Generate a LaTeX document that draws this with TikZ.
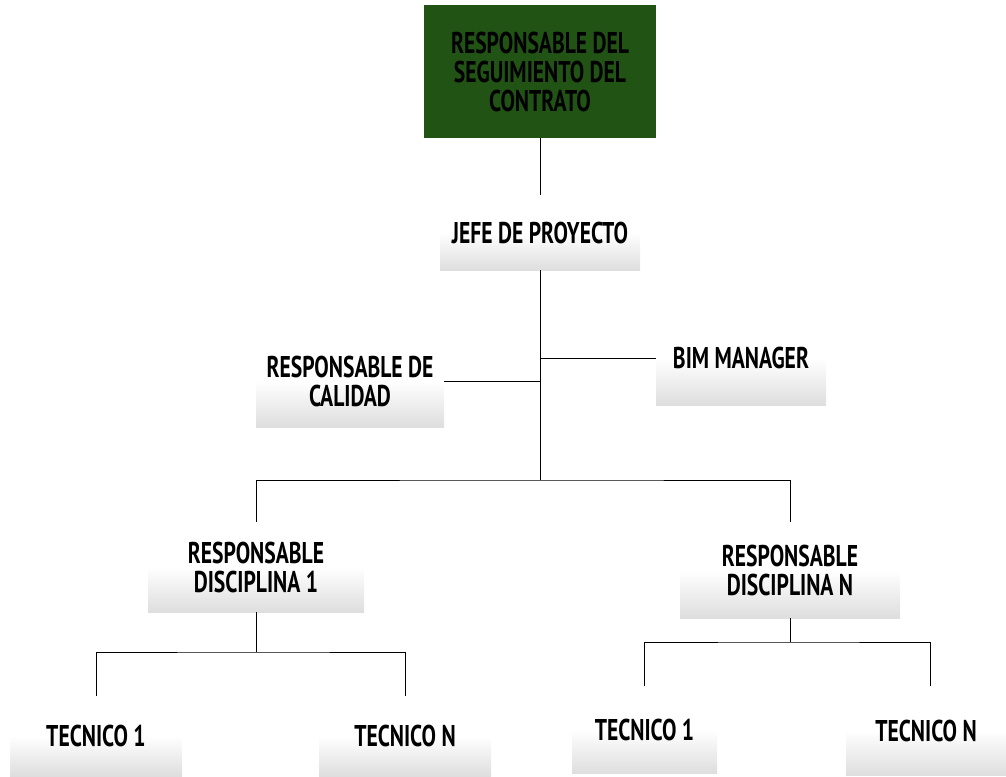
\documentclass[tikz,border=0pt]{standalone}
\usepackage{fontspec}
\newfontfamily\orgfont{PT Sans}[FakeStretch=0.72]
\pgfdeclareverticalshading{boxfade}{100bp}{color(0bp)=(black!13); color(25bp)=(black!13); color(50bp)=(white); color(75bp)=(white); color(100bp)=(white)}
\begin{document}
\begin{tikzpicture}[x=1pt,y=-1pt,
    label text/.style={inner sep=0pt, align=center, font=\orgfont\bfseries\fontsize{30}{29}\selectfont},
    box/.style={label text, shading=boxfade},
    head box/.style={label text, fill=headgreen},
    link/.style={line width=0.8pt}]
    % Define colors
    \definecolor{headgreen}{RGB}{33,83,21}

    \useasboundingbox (0,0) rectangle (1006,776);

    % Draw boxes
    \node[head box, minimum width=232, minimum height=133] (head) at (540,71.5) {RESPONSABLE DEL\\SEGUIMIENTO DEL\\CONTRATO};
    \node[box, minimum width=200, minimum height=75] (jefe) at (540,232.5) {JEFE DE PROYECTO};
    \node[box, minimum width=170, minimum height=94] (bim) at (741,358) {BIM MANAGER};
    \node[box, minimum width=188, minimum height=92] (calidad) at (350,381) {RESPONSABLE DE\\CALIDAD};
    \node[box, minimum width=216, minimum height=90] (disc1) at (256,567) {RESPONSABLE\\DISCIPLINA 1};
    \node[box, minimum width=220, minimum height=96] (discN) at (790,570) {RESPONSABLE\\DISCIPLINA N};
    \node[box, minimum width=172, minimum height=80] (tecA) at (96,736) {TECNICO 1};
    \node[box, minimum width=172, minimum height=80] (tecB) at (405,736) {TECNICO N};
    \node[box, minimum width=145, minimum height=87] (tecC) at (644.5,729.5) {TECNICO 1};
    \node[box, minimum width=160, minimum height=89] (tecD) at (926,730.5) {TECNICO N};

    % Bar points
    \coordinate (hub) at (540,480);
    \coordinate (barA) at (256,652);
    \coordinate (barB) at (790,642);

    % Draw connectors
    \draw[link] (head.south) -- (jefe.north);
    \draw[link] (jefe.south) -- (hub);
    \draw[link] (bim.west) -- (bim.west -| jefe.south);
    \draw[link] (calidad.east) -- (calidad.east -| jefe.south);
    \draw[link] (disc1.north) |- (hub) -| (discN.north);
    \draw[link] (disc1.south) -- (barA);
    \draw[link] (tecA.north) |- (barA) -| (tecB.north);
    \draw[link] (discN.south) -- (barB);
    \draw[link] (tecC.north) |- (barB) -| ([xshift=4pt]tecD.north);
\end{tikzpicture}
\end{document}
